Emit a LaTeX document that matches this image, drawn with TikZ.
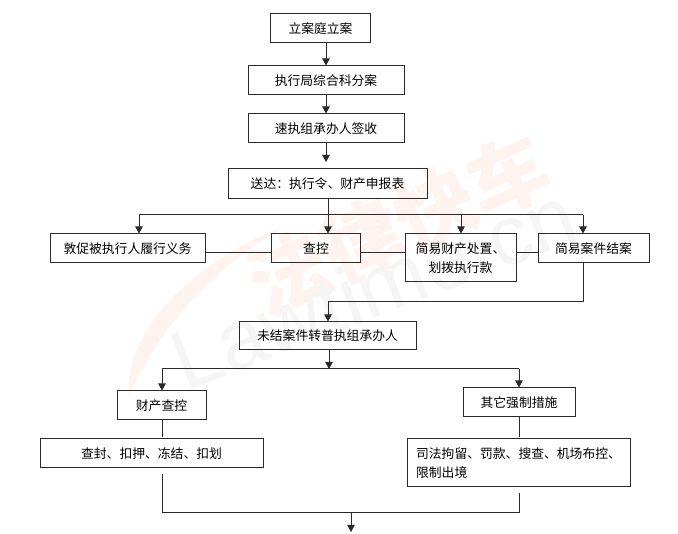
\documentclass[tikz,border=0pt]{standalone}
\usepackage{fontspec}
\setmainfont{Noto Sans CJK SC}
\newfontfamily\latinwm{Liberation Sans}
\usetikzlibrary{arrows.meta}
\definecolor{ink}{HTML}{2A2A2A}
\definecolor{wmred}{HTML}{FEF3EE}
\definecolor{wmgray}{HTML}{F5F5F5}
\tikzset{
  box/.style={draw=ink,line width=1pt,inner sep=0pt,align=center,font=\fontsize{12.8}{18.5}\selectfont,text=black},
  link/.style={draw=ink,line width=1pt},
  flow/.style={link,-{Triangle[length=7pt,width=7.5pt]}},
}
\begin{document}
\begin{tikzpicture}[x=1pt,y=-1pt]
\useasboundingbox (0,0) rectangle (678,534);
% watermark
\fill[wmred] (129,396) .. controls (122,335) and (190,262) .. (285,226) .. controls (215,268) and (160,325) .. (129,396) -- cycle;
\node[rotate=24,text=wmred,font=\fontsize{80}{80}\selectfont\bfseries,inner sep=0pt] (wmcn) at (398,224) {法律快车};
\node[rotate=21,text=wmgray,font=\latinwm\fontsize{84}{84}\selectfont,inner sep=0pt,anchor=base] (wmen) at (384,315) {Lawtime.cn};
% boxes
\node[box,minimum width=100pt,minimum height=29pt] (a) at (320.5,28.5) {立案庭立案};
\node[box,minimum width=156pt,minimum height=29pt] (b) at (326,80.5) {执行局综合科分案};
\node[box,minimum width=156pt,minimum height=29pt] (c) at (326,128.5) {速执组承办人签收};
\node[box,minimum width=199pt,minimum height=30pt] (d) at (327.5,184) {送达：执行令、财产申报表};
\node[box,minimum width=155pt,minimum height=29pt] (e) at (127.5,248.5) {敦促被执行人履行义务};
\node[box,minimum width=89pt,minimum height=29pt] (f) at (316,248.5) {查控};
\node[box,minimum width=111pt,minimum height=48pt] (g) at (460.5,258) {简易财产处置、\\划拨执行款};
\node[box,minimum width=111pt,minimum height=29pt] (h) at (593.5,248.5) {简易案件结案};
\node[box,minimum width=177pt,minimum height=28pt] (i) at (327.5,336) {未结案件转普执组承办人};
\node[box,minimum width=89pt,minimum height=29pt] (j) at (161.5,405.5) {财产查控};
\node[box,minimum width=112pt,minimum height=29pt] (k) at (519,402.5) {其它强制措施};
\node[box,minimum width=223pt,minimum height=29pt] (l) at (151.5,453.5) {查封、扣押、冻结、扣划};
\node[box,minimum width=223pt,minimum height=48pt,align=left] (m) at (518.5,463) {司法拘留、罚款、搜查、机场布控、\\限制出境};
% helper coordinates
\coordinate (arrowC) at (326,162);
\coordinate (rowY) at (0,253);
\coordinate (busT) at (328,215);
\coordinate (busTL) at (139,215);
\coordinate (busTG) at (461,215);
\coordinate (busTH) at (583,215);
\coordinate (mergeR) at (583,302);
\coordinate (mergeL) at (328,302);
\coordinate (busM) at (329,369);
\coordinate (busML) at (162,369);
\coordinate (busMR) at (519,369);
\coordinate (jEnd) at (162,437);
\coordinate (kEnd) at (519,437);
\coordinate (lStart) at (162,474);
\coordinate (mStart) at (519,493);
\coordinate (busBL) at (162,513);
\coordinate (busBR) at (519,513);
\coordinate (busBO) at (351,513);
\coordinate (endB) at (351,532);
% connectors
\draw[flow] (a.south -| arrowC) -- (b.north -| arrowC);
\draw[flow] (b.south -| arrowC) -- (c.north -| arrowC);
\draw[flow] (c.south -| arrowC) -- (arrowC);
\draw[flow] (d.south -| busT) -- (f.north -| busT);
\draw[link] (busTL) -- (busTH);
\draw[flow] (busTL) -- (e.north -| busTL);
\draw[flow] (busTG) -- (g.north -| busTG);
\draw[flow] (busTH) -- (h.north -| busTH);
\draw[link] (e.east |- rowY) -- (f.west |- rowY);
\draw[link] (f.east |- rowY) -- (g.west |- rowY);
\draw[link] (g.east |- rowY) -- (h.west |- rowY);
\draw[link] (h.south -| mergeR) -- (mergeR) -- (mergeL);
\draw[flow] (mergeL) -- (i.north -| mergeL);
\draw[flow] (i.south -| busM) -- (busM);
\draw[link] (busML) -- (busMR);
\draw[flow] (busML) -- (j.north -| busML);
\draw[flow] (busMR) -- (k.north -| busMR);
\draw[link] (j.south -| jEnd) -- (jEnd);
\draw[link] (k.south -| kEnd) -- (kEnd);
\draw[link] (lStart) -- (busBL) -- (busBR) -- (mStart);
\draw[flow] (busBO) -- (endB);
\end{tikzpicture}
\end{document}
